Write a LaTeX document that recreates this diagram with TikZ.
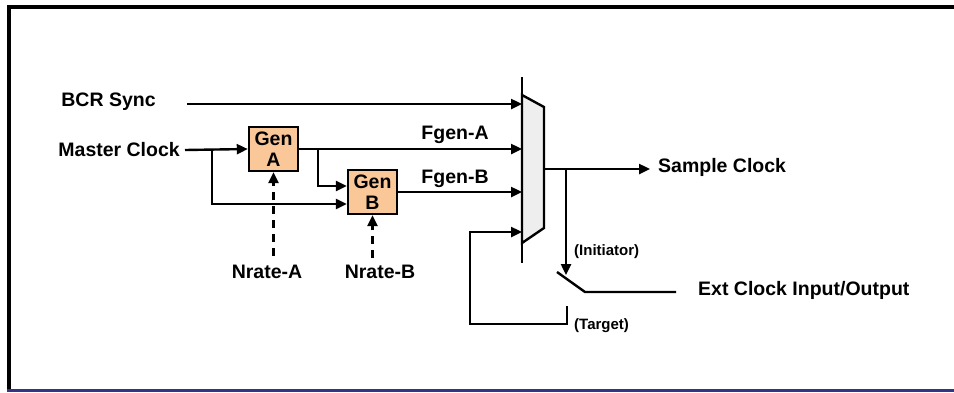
\documentclass[tikz,border=0pt]{standalone}
\usepackage{fontspec}
\setmainfont{Liberation Sans}
\usetikzlibrary{arrows.meta}
\definecolor{genfill}{HTML}{FAC898}
\definecolor{muxfill}{HTML}{EEEEEE}
\definecolor{framblue}{HTML}{333388}
\begin{document}
\begin{tikzpicture}[x=1pt,y=-1pt,line width=2.4pt,>={Triangle[length=11pt,width=10pt]},
  lbl/.style={font=\bfseries\fontsize{19.5}{21}\selectfont,inner sep=0pt},
  sml/.style={font=\bfseries\fontsize{15}{17}\selectfont,inner sep=0pt},
  gen/.style={draw,fill=genfill,minimum width=49pt,minimum height=44pt,inner sep=0pt,
              align=center,font=\bfseries\fontsize{19.5}{21}\selectfont},
  ctl/.style={->,dash pattern=on 8pt off 6pt}]
\useasboundingbox (0,0) rectangle (954,392);
% frame
\draw[line width=4pt] (954,7) -- (9,7) -- (9,390);
\draw[framblue,line width=3pt] (7,390.5) -- (954,390.5);
% labels
\node[lbl] (bcr) at (108.5,102) {BCR Sync};
\node[lbl,anchor=east] (master) at (181,150) {Master Clock};
\node[lbl] (fgenA) at (455,135) {Fgen-A};
\node[lbl] (fgenB) at (455,179) {Fgen-B};
\node[lbl] (nrateA) at (267,272) {Nrate-A};
\node[lbl] (nrateB) at (380,272) {Nrate-B};
\node[lbl,anchor=west] (sample) at (657,167) {Sample Clock};
\node[lbl,anchor=west] (ext) at (697,290) {Ext Clock Input/Output};
\node[sml,anchor=west] (init) at (573,252) {(Initiator)};
\node[sml,anchor=west] (target) at (573,326) {(Target)};
% generators
\node[gen] (genA) at (273.5,149) {Gen\\A};
\node[gen] (genB) at (372.5,192) {Gen\\B};
% mux
\coordinate (muxTop) at (522,77);
\coordinate (muxBot) at (522,263);
\coordinate (muxOut) at (544,169);
\draw[fill=muxfill] (522,95) -- (544,107) -- (544,228) -- (522,243) -- cycle;
\draw (muxTop) -- (muxBot);
% inputs
\draw[->] ([xshift=30pt]bcr.east |- 0,104) -- (muxTop |- 0,104);
\draw[->] ([xshift=4pt]master.east) -- (genA.west);
\draw[->] (212,149) |- (genB.west |- 0,204);
\draw[->] (genA.east) -- (muxTop |- genA.east);
\draw[->] (318,149) |- (genB.west |- 0,186);
\draw[->] (genB.east) -- (muxTop |- genB.east);
\draw[ctl] ([yshift=8pt]nrateA.north -| genA.south) -- (genA.south);
\draw[ctl] ([yshift=6pt]nrateB.north -| genB.south) -- (genB.south);
% output and external clock
\coordinate (swTop) at (557,272);
\coordinate (swPivot) at (585,292);
\coordinate (tgt) at (567,306);
\draw[->] (muxOut) -- ([xshift=-7pt]sample.west |- muxOut);
\draw[->] (566,169) -- (566,275);
\draw (swTop) -- (swPivot) -- ([xshift=-21pt]ext.west |- swPivot);
\draw[->] (tgt) |- (470,324) |- (muxTop |- 0,232);
\end{tikzpicture}
\end{document}
